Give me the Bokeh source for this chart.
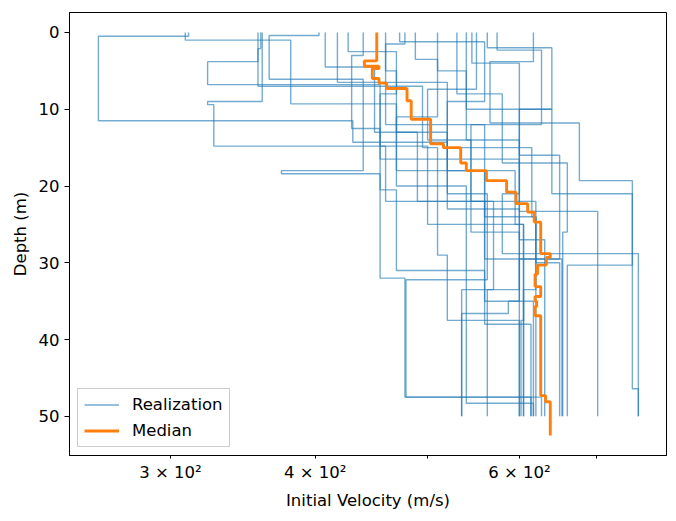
from bokeh.plotting import figure
from bokeh.models import Range1d, FixedTicker, Legend, LegendItem
from bokeh.embed import file_html
from bokeh.resources import INLINE

# Layer tops (m) and layer velocities (m/s) for every sampled profile.
# All profiles stop at 50 m; the median profile runs to 52.5 m.
real_tops = [
    [0, 0.5, 11.5, 14.3, 23.0],
    [0, 1.0, 9.3, 18.0, 29.5],
    [0, 2.1, 3.8, 6.8, 14.8, 25.0],
    [0, 9.0, 9.4, 14.8, 22.0, 33.5],
    [0, 0.4, 6.1, 18.0, 18.4, 32.0, 47.5],
    [0, 5.0, 13.0, 21.0, 32.2, 47.5],
    [0, 2.3, 12.0, 26.0, 35.0, 36.6],
    [0, 3.5, 11.0, 20.0, 48.3],
    [0, 7.0, 15.0, 29.0, 37.5],
    [0, 4.0, 16.0, 29.5, 33.5],
    [0, 1.5, 12.0, 24.0, 33.5, 37.5],
    [0, 3.8, 11.8, 19.3, 46.4],
    [0, 6.0, 14.0, 21.0, 28.8],
    [0, 5.0, 10.0, 21.0, 30.3],
    [0, 2.0, 10.0, 23.3],
    [0, 8.0, 17.0, 26.0],
    [0, 4.5, 13.0, 22.0, 35.0],
    [0, 2.5, 8.0, 16.5, 27.0],
    [0, 6.5, 18.0, 25.0],
    [0, 3.0, 12.5, 20.5, 31.0, 38.0],
    [0, 1.2, 9.0, 15.0, 24.0],
    [0, 7.4, 14.0, 22.0, 30.0],
]
real_vels = [
    [311, 260, 431, 520, 600],
    [309, 381, 470, 560, 653],
    [359, 357, 323, 455, 500, 605],
    [360, 323, 327, 460, 570, 535],
    [403, 365, 440, 374, 455, 478, 614],
    [460, 470, 520, 563, 479, 627],
    [574, 627, 545, 600, 587, 535],
    [488, 510, 470, 540, 617],
    [357, 495, 510, 520, 600],
    [546, 600, 650, 600, 563],
    [478, 460, 560, 620, 605, 602],
    [617, 566, 676, 751, 760],
    [540, 540, 600, 580, 760],
    [510, 540, 640, 751, 660],
    [563, 640, 600, 701],
    [530, 580, 660, 654],
    [408, 450, 490, 560, 617],
    [427, 470, 455, 600, 631],
    [418, 520, 595, 605],
    [440, 430, 455, 470, 560, 614],
    [473, 560, 520, 615, 620],
    [551, 500, 545, 620, 650],
]
real_bottom = 50.0

median_tops = [0, 3.7, 4.4, 4.7, 6.0, 6.6, 7.3, 8.9, 11.3, 14.5, 15.0, 17.0,
               18.0, 19.3, 20.8, 22.3, 23.4, 24.7, 28.8, 29.3, 30.3, 31.5,
               33.1, 34.4, 35.0, 35.7, 36.9, 47.3, 48.1]
median_vels = [452, 441, 454, 448, 454, 461, 480, 484, 503, 516, 534, 540,
               562, 585, 596, 610, 618, 626, 638, 633, 622, 619,
               626, 619, 621, 619, 626, 632, 638]
median_bottom = 52.5

x_ticks = [300, 400, 500, 600, 700]
x_tick_labels = {300: "3 × 10²", 400: "4 × 10²", 500: "", 600: "6 × 10²", 700: ""}
y_ticks = [0, 10, 20, 30, 40, 50]


def staircase(tops, vels, bottom):
    """Vertices of a layered profile drawn as connected steps."""
    bounds = list(tops[1:]) + [bottom]
    xs, ys = [], []
    for v, top, bot in zip(vels, tops, bounds):
        xs += [v, v]
        ys += [top, bot]
    return xs, ys


FONT = "DejaVu Sans"
FS = "16.5px"

p = figure(width=676, height=521, x_axis_type="log",
           x_range=Range1d(245.5, 803.7), y_range=Range1d(55.1, -2.6),
           output_backend="svg", toolbar_location=None,
           min_border_left=69, min_border_right=10,
           min_border_top=12, min_border_bottom=66)
p.background_fill_color = "white"
p.border_fill_color = "white"
p.outline_line_color = "black"
p.outline_line_width = 1
p.grid.visible = False

profiles = [staircase(t, v, real_bottom) for t, v in zip(real_tops, real_vels)]
r_real = p.multi_line([pr[0] for pr in profiles], [pr[1] for pr in profiles],
                      line_color="#1f77b4", line_alpha=0.62, line_width=1.4)

mx, my = staircase(median_tops, median_vels, median_bottom)
r_med = p.line(mx, my, line_color="#ff7f0e", line_width=2.9)

legend = Legend(items=[LegendItem(label="Realization", renderers=[r_real]),
                       LegendItem(label="Median", renderers=[r_med])],
                location="bottom_left")
legend.label_text_font = FONT
legend.label_text_font_size = FS
legend.label_text_color = "black"
legend.border_line_color = "#cccccc"
legend.border_line_alpha = 1
legend.background_fill_alpha = 0.85
legend.glyph_width = 35
legend.glyph_height = 19
legend.label_height = 19
legend.label_standoff = 13
legend.padding = 6
legend.spacing = 7
legend.margin = 8
p.add_layout(legend)

p.xaxis.ticker = FixedTicker(ticks=x_ticks, minor_ticks=[])
p.xaxis.major_label_overrides = x_tick_labels
p.yaxis.ticker = FixedTicker(ticks=y_ticks, minor_ticks=[])

for ax in (p.xaxis[0], p.yaxis[0]):
    ax.axis_line_color = "black"
    ax.major_tick_line_color = "black"
    ax.major_tick_in = 0
    ax.major_label_text_font = FONT
    ax.major_label_text_font_size = FS
    ax.major_label_text_color = "black"
    ax.axis_label_text_font = FONT
    ax.axis_label_text_font_size = FS
    ax.axis_label_text_color = "black"
    ax.axis_label_text_font_style = "normal"
    ax.minor_tick_line_color = None

p.xaxis.major_tick_out = 3
p.yaxis.major_tick_out = 5
p.xaxis.major_label_standoff = 4
p.yaxis.major_label_standoff = 5
p.xaxis.axis_label = "Initial Velocity (m/s)"
p.yaxis.axis_label = "Depth (m)"
p.xaxis.axis_label_standoff = 6
p.yaxis.axis_label_standoff = 6

open("out.html", "w").write(file_html(p, INLINE))
